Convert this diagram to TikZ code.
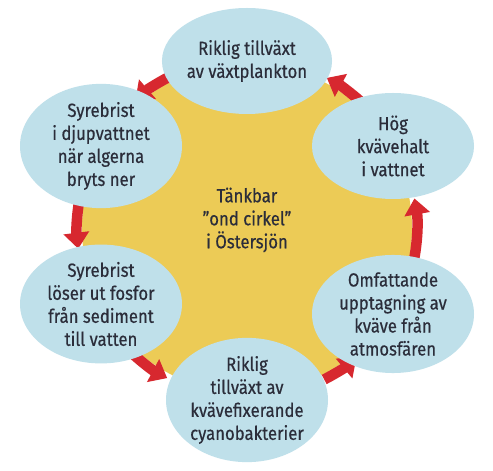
\documentclass[tikz,border=0pt]{standalone}
\usepackage{fontspec}
\setmainfont{Fira Sans}[FakeStretch=0.88,FakeBold=0.5]
\usetikzlibrary{shapes.geometric,arrows.meta,calc}
\definecolor{cyellow}{HTML}{ECCB56}
\definecolor{cblue}{HTML}{BFE0EA}
\definecolor{cred}{HTML}{D7282F}
\definecolor{ctext}{HTML}{2B2D3A}
\begin{document}
\begin{tikzpicture}[x=1pt,y=1pt,
  bubble/.style={ellipse,fill=cblue,minimum width=162pt,minimum height=106pt,inner sep=0pt,
    align=center,text=ctext,font=\fontsize{19}{23}\selectfont},
  redarrow/.style={draw=cred,line width=10.5pt,-{Triangle[width=25pt,length=16pt]}}]
\useasboundingbox (0,0) rectangle (493,471);
\fill[white] (0,0) rectangle (493,471);
\coordinate (C) at (247,243);
\fill[cyellow] (C) circle[radius=165];
% red arrows along the circle
\foreach \s/\e/\n in {117/131/a1,169/187/a2,226/242/a3,297/310/a4,-12/10/a5,48/62/a6}{
  \coordinate (\n) at ($(C)+(\s:170)$);
  \draw[redarrow] (\n) arc[start angle=\s,end angle=\e,radius=170];
}
\node[bubble] (top) at (247,410) {Riklig tillväxt\\av växtplankton};
\node[bubble] (ul) at (101,325) {Syrebrist\\i djupvattnet\\när algerna\\bryts ner};
\node[bubble] (ur) at (393,325) {Hög\\kvävehalt\\i vattnet};
\node[bubble,minimum height=100pt] (ll) at (101,167) {Syrebrist\\löser ut fosfor\\från sediment\\till vatten};
\node[bubble] (lr) at (393,157) {Omfattande\\upptagning av\\kväve från\\atmosfären};
\node[bubble] (bot) at (247,71) {Riklig\\tillväxt av\\kvävefixerande\\cyanobakterier};
\node[align=center,text=ctext,font=\fontsize{19}{23}\selectfont] (mid) at (247,251) {Tänkbar\\\symbol{"22}ond cirkel\symbol{"22}\\i Östersjön};
\end{tikzpicture}
\end{document}
